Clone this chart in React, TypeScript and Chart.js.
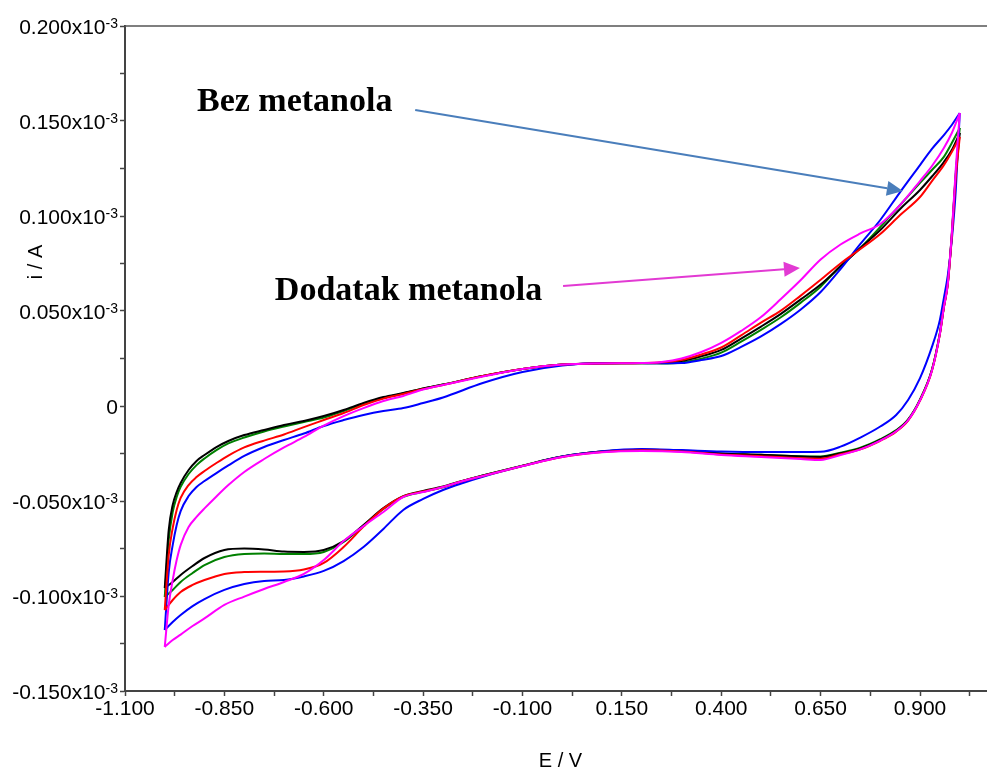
import React, { useEffect, useRef } from "react";
import { Chart, registerables } from "chart.js";

Chart.register(...registerables);

// Potential grids (V)
const anodicE = [-1.0, -0.99, -0.98, -0.97, -0.96, -0.94, -0.92, -0.9, -0.87, -0.84, -0.8, -0.75, -0.7, -0.65, -0.6, -0.55, -0.5, -0.45, -0.4, -0.35, -0.3, -0.2, -0.1, 0.0, 0.1, 0.2, 0.25, 0.3, 0.35, 0.4, 0.45, 0.5, 0.55, 0.6, 0.65, 0.7, 0.75, 0.8, 0.85, 0.9, 0.93, 0.96, 0.98, 1.0];
const cathodicE = [1.0, 0.99, 0.98, 0.97, 0.96, 0.95, 0.93, 0.9, 0.87, 0.84, 0.8, 0.75, 0.7, 0.65, 0.6, 0.5, 0.4, 0.3, 0.2, 0.1, 0.0, -0.1, -0.2, -0.25, -0.3, -0.35, -0.4, -0.45, -0.5, -0.55, -0.6, -0.65, -0.7, -0.75, -0.8, -0.85, -0.9, -0.93, -0.96, -0.98, -1.0];

// Currents in units of 10^-3 A
const blackAnodic = [-0.0958, -0.0653, -0.0521, -0.0453, -0.0405, -0.0337, -0.0289, -0.0258, -0.0216, -0.0184, -0.0153, -0.0126, -0.0100, -0.0079, -0.0053, -0.0021, 0.0016, 0.0047, 0.0068, 0.0092, 0.0113, 0.0158, 0.0195, 0.0218, 0.0224, 0.0225, 0.0228, 0.0237, 0.0262, 0.0295, 0.0355, 0.0418, 0.0485, 0.0561, 0.0639, 0.0735, 0.0832, 0.0926, 0.1037, 0.1137, 0.1208, 0.1284, 0.1347, 0.1437];
const blackCathodic = [0.1437, 0.1216, 0.0900, 0.0647, 0.0521, 0.0382, 0.0189, 0.0032, -0.0073, -0.0130, -0.0178, -0.0223, -0.0249, -0.0268, -0.0266, -0.0257, -0.0250, -0.0235, -0.0230, -0.0240, -0.0266, -0.0314, -0.0366, -0.0393, -0.0424, -0.0447, -0.0474, -0.0537, -0.0626, -0.0711, -0.0758, -0.0768, -0.0766, -0.0755, -0.0750, -0.0758, -0.0800, -0.0842, -0.0889, -0.0926, -0.0958];

const greenAnodic = [-0.1005, -0.0705, -0.0558, -0.0479, -0.0426, -0.0358, -0.0311, -0.0276, -0.0232, -0.0197, -0.0166, -0.0134, -0.0108, -0.0084, -0.0061, -0.0026, 0.0011, 0.0042, 0.0066, 0.0092, 0.0113, 0.0158, 0.0195, 0.0218, 0.0224, 0.0225, 0.0224, 0.0229, 0.0249, 0.0281, 0.0339, 0.0401, 0.0467, 0.0544, 0.0628, 0.0737, 0.0832, 0.0942, 0.1058, 0.1174, 0.1242, 0.1311, 0.1384, 0.1463];
const greenCathodic = [0.1463, 0.1230, 0.0905, 0.0650, 0.0523, 0.0385, 0.0192, 0.0035, -0.0070, -0.0127, -0.0175, -0.0220, -0.0246, -0.0266, -0.0265, -0.0257, -0.0250, -0.0235, -0.0230, -0.0240, -0.0266, -0.0314, -0.0366, -0.0395, -0.0428, -0.0452, -0.0478, -0.0542, -0.0630, -0.0716, -0.0768, -0.0779, -0.0779, -0.0776, -0.0779, -0.0795, -0.0837, -0.0879, -0.0926, -0.0968, -0.1005];

const redAnodic = [-0.1074, -0.0784, -0.0642, -0.0547, -0.0484, -0.0416, -0.0374, -0.0342, -0.0300, -0.0261, -0.0218, -0.0182, -0.0150, -0.0111, -0.0074, -0.0037, 0.0005, 0.0039, 0.0063, 0.0089, 0.0111, 0.0158, 0.0195, 0.0218, 0.0224, 0.0226, 0.0230, 0.0242, 0.0271, 0.0308, 0.0372, 0.0439, 0.0502, 0.0581, 0.0664, 0.0750, 0.0826, 0.0905, 0.1005, 0.1100, 0.1184, 0.1268, 0.1337, 0.1416];
const redCathodic = [0.1416, 0.1205, 0.0895, 0.0642, 0.0518, 0.0378, 0.0185, 0.0028, -0.0077, -0.0135, -0.0183, -0.0228, -0.0254, -0.0278, -0.0275, -0.0264, -0.0255, -0.0239, -0.0233, -0.0242, -0.0268, -0.0316, -0.0368, -0.0395, -0.0426, -0.0450, -0.0476, -0.0540, -0.0635, -0.0742, -0.0826, -0.0861, -0.0871, -0.0872, -0.0874, -0.0884, -0.0916, -0.0942, -0.0979, -0.1021, -0.1074];

const blueAnodic = [-0.1179, -0.0874, -0.0732, -0.0626, -0.0553, -0.0474, -0.0426, -0.0395, -0.0353, -0.0313, -0.0263, -0.0216, -0.0179, -0.0145, -0.0105, -0.0074, -0.0047, -0.0026, -0.0011, 0.0016, 0.0045, 0.0121, 0.0179, 0.0213, 0.0226, 0.0226, 0.0225, 0.0226, 0.0242, 0.0263, 0.0311, 0.0366, 0.0432, 0.0508, 0.0600, 0.0721, 0.0853, 0.0979, 0.1126, 0.1268, 0.1353, 0.1426, 0.1479, 0.1542];
const blueCathodic = [0.1542, 0.1137, 0.0874, 0.0689, 0.0568, 0.0453, 0.0311, 0.0147, 0.0032, -0.0047, -0.0108, -0.0166, -0.0214, -0.0241, -0.0242, -0.0242, -0.0239, -0.0232, -0.0226, -0.0238, -0.0266, -0.0316, -0.0372, -0.0405, -0.0442, -0.0489, -0.0547, -0.0647, -0.0742, -0.0816, -0.0868, -0.0897, -0.0916, -0.0921, -0.0937, -0.0968, -0.1016, -0.1053, -0.1100, -0.1137, -0.1179];

const magentaAnodic = [-0.1268, -0.1047, -0.0916, -0.0811, -0.0732, -0.0637, -0.0584, -0.0539, -0.0476, -0.0416, -0.0347, -0.0279, -0.0218, -0.0163, -0.0103, -0.0053, -0.0011, 0.0026, 0.0053, 0.0087, 0.0111, 0.0155, 0.0195, 0.0218, 0.0224, 0.0226, 0.0232, 0.0250, 0.0284, 0.0332, 0.0395, 0.0468, 0.0563, 0.0663, 0.0771, 0.0850, 0.0908, 0.0958, 0.1058, 0.1184, 0.1263, 0.1358, 0.1437, 0.1542];
const magentaCathodic = [0.1542, 0.1250, 0.0910, 0.0645, 0.0520, 0.0380, 0.0187, 0.0030, -0.0075, -0.0133, -0.0182, -0.0228, -0.0258, -0.0284, -0.0279, -0.0268, -0.0258, -0.0242, -0.0237, -0.0244, -0.0268, -0.0316, -0.0368, -0.0395, -0.0426, -0.0453, -0.0479, -0.0558, -0.0632, -0.0711, -0.0811, -0.0884, -0.0926, -0.0963, -0.1003, -0.1047, -0.1118, -0.1158, -0.1203, -0.1232, -0.1268];

// Axis ticks
const xTicks = [-1.1, -0.975, -0.85, -0.725, -0.6, -0.475, -0.35, -0.225, -0.1, 0.025, 0.15, 0.275, 0.4, 0.525, 0.65, 0.775, 0.9, 1.025];
const xTickLabels = [-1.1, -0.85, -0.6, -0.35, -0.1, 0.15, 0.4, 0.65, 0.9];
const yTicks = [-0.15, -0.125, -0.1, -0.075, -0.05, -0.025, 0, 0.025, 0.05, 0.075, 0.1, 0.125, 0.15, 0.175, 0.2];
const yTickLabels = [-0.15, -0.1, -0.05, 0, 0.05, 0.1, 0.15, 0.2];

// Annotations (data coordinates: E / V, i / 10^-3 A)
const bezText = { text: "Bez metanola", E: -0.919, i: 0.1553 };
const bezArrow = { fromE: -0.370, fromI: 0.1558, toE: 0.857, toI: 0.1132, color: "#4a7ebb" };
const dodText = { text: "Dodatak metanola", E: -0.723, i: 0.0558 };
const dodArrow = { fromE: 0.002, fromI: 0.0632, toE: 0.598, toI: 0.0726, color: "#e23ad3" };

const series = [
  { color: "#ff00ff", a: magentaAnodic, c: magentaCathodic },
  { color: "#ff0000", a: redAnodic, c: redCathodic },
  { color: "#0000ff", a: blueAnodic, c: blueCathodic },
  { color: "#000000", a: blackAnodic, c: blackCathodic },
  { color: "#008000", a: greenAnodic, c: greenCathodic },
];

const SANS = '"Liberation Sans", Arial, sans-serif';
const SERIF = '"Liberation Serif", "Times New Roman", serif';

function drawArrow(ctx: CanvasRenderingContext2D, x1: number, y1: number, x2: number, y2: number, color: string) {
  const ang = Math.atan2(y2 - y1, x2 - x1);
  const hl = 16, hw = 7.5;
  const bx = x2 - hl * Math.cos(ang), by = y2 - hl * Math.sin(ang);
  ctx.save();
  ctx.strokeStyle = color;
  ctx.fillStyle = color;
  ctx.lineWidth = 2;
  ctx.beginPath();
  ctx.moveTo(x1, y1);
  ctx.lineTo(bx, by);
  ctx.stroke();
  ctx.beginPath();
  ctx.moveTo(x2, y2);
  ctx.lineTo(bx + hw * Math.sin(ang), by - hw * Math.cos(ang));
  ctx.lineTo(bx - hw * Math.sin(ang), by + hw * Math.cos(ang));
  ctx.closePath();
  ctx.fill();
  ctx.restore();
}

const decorPlugin = {
  id: "decor",
  afterDraw(chart: any) {
    const ctx: CanvasRenderingContext2D = chart.ctx;
    const xs = chart.scales.x, ys = chart.scales.y;
    const area = chart.chartArea;
    ctx.save();
    // top frame line
    ctx.strokeStyle = "#555";
    ctx.lineWidth = 1.5;
    ctx.beginPath();
    ctx.moveTo(area.left, area.top);
    ctx.lineTo(chart.width, area.top);
    ctx.stroke();

    ctx.fillStyle = "#000";
    // x tick labels
    ctx.font = `21px ${SANS}`;
    ctx.textAlign = "center";
    ctx.textBaseline = "alphabetic";
    for (const v of xTickLabels) {
      const px = xs.getPixelForValue(v);
      ctx.fillText(v.toFixed(3), px, area.bottom + 24);
    }
    // y tick labels with superscript
    const rightX = area.left - 7;
    for (const v of yTickLabels) {
      const py = ys.getPixelForValue(v);
      if (Math.abs(v) < 1e-9) {
        ctx.font = `21px ${SANS}`;
        ctx.textAlign = "right";
        ctx.fillText("0", rightX, py + 8);
        continue;
      }
      const sup = "-3";
      ctx.font = `14px ${SANS}`;
      const sw = ctx.measureText(sup).width;
      ctx.textAlign = "right";
      ctx.fillText(sup, rightX, py + 2);
      ctx.font = `21px ${SANS}`;
      ctx.fillText(v.toFixed(3) + "x10", rightX - sw, py + 8);
    }
    // axis titles
    ctx.font = `20px ${SANS}`;
    ctx.textAlign = "center";
    ctx.textBaseline = "middle";
    ctx.fillText("E / V", (area.left + area.right) / 2 + 5, 761);
    ctx.save();
    ctx.translate(36, 262);
    ctx.rotate(-Math.PI / 2);
    ctx.fillText("i / A", 0, 0);
    ctx.restore();

    // annotations
    drawArrow(ctx, xs.getPixelForValue(bezArrow.fromE), ys.getPixelForValue(bezArrow.fromI), xs.getPixelForValue(bezArrow.toE), ys.getPixelForValue(bezArrow.toI), bezArrow.color);
    drawArrow(ctx, xs.getPixelForValue(dodArrow.fromE), ys.getPixelForValue(dodArrow.fromI), xs.getPixelForValue(dodArrow.toE), ys.getPixelForValue(dodArrow.toI), dodArrow.color);
    ctx.fillStyle = "#000";
    ctx.font = `bold 34px ${SERIF}`;
    ctx.textAlign = "left";
    ctx.textBaseline = "alphabetic";
    ctx.fillText(bezText.text, xs.getPixelForValue(bezText.E), ys.getPixelForValue(bezText.i));
    ctx.fillText(dodText.text, xs.getPixelForValue(dodText.E), ys.getPixelForValue(dodText.i));
    ctx.restore();
  },
};

export default function App() {
  const ref = useRef<HTMLCanvasElement>(null);
  useEffect(() => {
    if (!ref.current) return;
    const datasets: any[] = [];
    for (const s of series) {
      datasets.push({
        data: anodicE.map((e, k) => ({ x: e, y: s.a[k] })),
        borderColor: s.color,
        borderWidth: 2,
        pointRadius: 0,
        fill: false,
        cubicInterpolationMode: "monotone",
      });
      datasets.push({
        data: cathodicE.map((e, k) => ({ x: e, y: s.c[k] })),
        borderColor: s.color,
        borderWidth: 2,
        pointRadius: 0,
        fill: false,
        cubicInterpolationMode: "monotone",
      });
    }
    const chart = new Chart(ref.current, {
      type: "line",
      data: { datasets },
      options: {
        responsive: false,
        animation: false,
        devicePixelRatio: 1,
        layout: { padding: { left: 125, top: 26, right: 1, bottom: 79 } },
        plugins: { legend: { display: false }, tooltip: { enabled: false } },
        scales: {
          x: {
            type: "linear",
            min: -1.1,
            max: 1.066,
            afterFit: (s: any) => { s.height = 0; },
            afterBuildTicks: (s: any) => { s.ticks = xTicks.map((v) => ({ value: v })); },
            ticks: { display: false },
            grid: { drawOnChartArea: false, drawTicks: true, tickLength: 5, tickColor: "#444", tickWidth: 1.5 },
            border: { color: "#444", width: 2 },
          },
          y: {
            type: "linear",
            min: -0.15,
            max: 0.2,
            afterFit: (s: any) => { s.width = 0; },
            afterBuildTicks: (s: any) => { s.ticks = yTicks.map((v) => ({ value: v })); },
            ticks: { display: false },
            grid: { drawOnChartArea: false, drawTicks: true, tickLength: 5, tickColor: "#444", tickWidth: 1.5 },
            border: { color: "#444", width: 2 },
          },
        },
      },
      plugins: [decorPlugin],
    } as any);
    return () => chart.destroy();
  }, []);
  return (
    <canvas
      ref={ref}
      width={987}
      height={770}
      style={{ position: "absolute", left: 0, top: 0, width: 987, height: 770 }}
    />
  );
}
